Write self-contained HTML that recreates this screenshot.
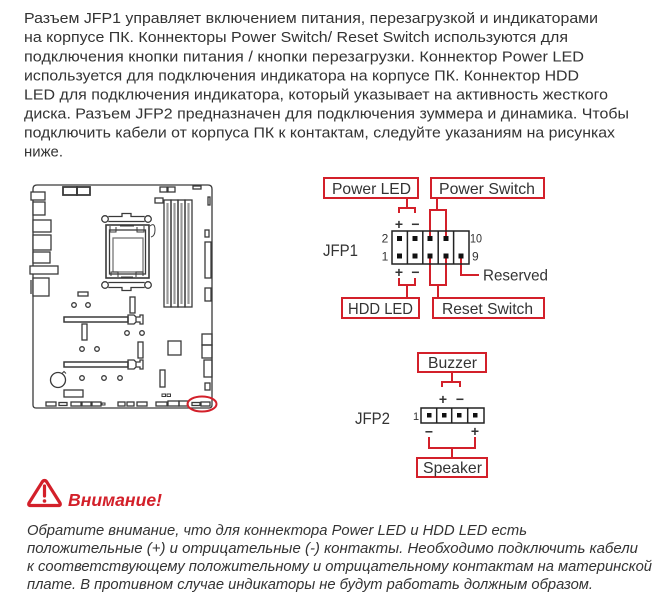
<!DOCTYPE html>
<html><head><meta charset="utf-8"><style>
html,body{margin:0;padding:0;background:#fff;}
svg{display:block;}
</style></head><body>
<svg width="661" height="599" viewBox="0 0 661 599" xmlns="http://www.w3.org/2000/svg" font-family="'Liberation Sans', 'Noto Sans CJK SC', sans-serif">
<rect width="661" height="599" fill="#fff"/>
<!-- Paragraph -->
<g fill="#333" font-size="14.5">
<text x="24" y="23" textLength="574" lengthAdjust="spacingAndGlyphs">Разъем JFP1 управляет включением питания, перезагрузкой и индикаторами</text>
<text x="24" y="42" textLength="544" lengthAdjust="spacingAndGlyphs">на корпусе ПК. Коннекторы Power Switch/ Reset Switch используются для</text>
<text x="24" y="61.5" textLength="560" lengthAdjust="spacingAndGlyphs">подключения кнопки питания / кнопки перезагрузки. Коннектор Power LED</text>
<text x="24" y="80.5" textLength="555" lengthAdjust="spacingAndGlyphs">используется для подключения индикатора на корпусе ПК. Коннектор HDD</text>
<text x="24" y="99.5" textLength="584" lengthAdjust="spacingAndGlyphs">LED для подключения индикатора, который указывает на активность жесткого</text>
<text x="24" y="118.5" textLength="605" lengthAdjust="spacingAndGlyphs">диска. Разъем JFP2 предназначен для подключения зуммера и динамика. Чтобы</text>
<text x="24" y="137.5" textLength="591" lengthAdjust="spacingAndGlyphs">подключить кабели от корпуса ПК к контактам, следуйте указаниям на рисунках</text>
<text x="24" y="156.5" textLength="39" lengthAdjust="spacingAndGlyphs">ниже.</text>
</g>

<!-- Motherboard -->
<g fill="none" stroke="#3a3a3a" stroke-width="1.3">
<path d="M37 185 H208 Q212 185 212 189 V405 Q212 408 209 408 H36 Q33 408 33 405 V189 Q33 185 37 185 Z" fill="#fff"/>
<!-- left IO -->
<rect x="31" y="192" width="14" height="8" fill="#fff"/>
<rect x="33" y="202" width="12" height="13" fill="#fff"/>
<rect x="33" y="220" width="18" height="12" fill="#fff"/>
<rect x="33" y="235" width="18" height="15" fill="#fff"/>
<rect x="33" y="252" width="17" height="11" fill="#fff"/>
<rect x="30" y="266" width="28" height="8" fill="#fff"/>
<rect x="33" y="278" width="16" height="18" fill="#fff"/>
<path d="M31 280 V294"/>
<!-- top -->
<rect x="63" y="187" width="14" height="8" stroke-width="1.8"/>
<rect x="77" y="187" width="13" height="8" stroke-width="1.8"/>
<rect x="160" y="187" width="7" height="5"/>
<rect x="168" y="187" width="7" height="5"/>
<rect x="193" y="186" width="8" height="3"/>
<rect x="155" y="198" width="8" height="5"/>
<rect x="208" y="197" width="2" height="8"/>
<!-- CPU socket -->
<circle cx="105" cy="219" r="3.3"/>
<circle cx="148" cy="219" r="3.3"/>
<path d="M108.3 216.5 H122 V213.5 H131 V216.5 H144.7 M108.3 221.5 H144.7"/>
<rect x="106" y="225" width="43" height="53" stroke-width="1.6"/>
<rect x="109.5" y="230" width="36" height="44"/>
<rect x="113" y="238" width="30" height="34" stroke="#777"/>
<path d="M110 226 V232 H116 V227 M137 227 V232 H144 V226 M120 226 H134" stroke-width="1"/>
<path d="M150 226 Q155 222 155 230 Q155 236 151 237" stroke-width="1"/>
<path d="M111 276 V272 H118 V277 M136 277 V272 H143 V276 M121 277 H133" stroke-width="1"/>
<circle cx="105" cy="285" r="3.3"/>
<circle cx="148" cy="285" r="3.3"/>
<path d="M108.3 282.5 H144.7 M108.3 287.5 H122 V290.5 H131 V287.5 H144.7"/>
<!-- DIMM -->
<rect x="164" y="200" width="7" height="107"/>
<rect x="171" y="200" width="7" height="107"/>
<rect x="178" y="200" width="7" height="107"/>
<rect x="185" y="200" width="7" height="107"/>
<path d="M167.5 203 V304 M174.5 203 V304 M181.5 203 V304 M188.5 203 V304" stroke="#999" stroke-width="2.2"/>
<!-- right side -->
<rect x="205" y="230" width="4" height="7"/>
<rect x="205" y="242" width="6" height="36"/>
<rect x="205" y="288" width="6" height="13"/>
<!-- lower -->
<rect x="78" y="292" width="10" height="4"/>
<rect x="130" y="297" width="5" height="16"/>
<circle cx="74" cy="305" r="2.3"/>
<circle cx="88" cy="305" r="2.3"/>
<rect x="64" y="317" width="64" height="5" stroke-width="1.5"/>
<path d="M128 315 H134 L136 317 H140 V315 H143 V324 H140 V322 H136 L134 324 H128 Z M136 317 V322"/>
<rect x="82" y="324" width="5" height="16"/>
<circle cx="127" cy="333" r="2.3"/>
<circle cx="142" cy="333" r="2.3"/>
<circle cx="82" cy="349" r="2.3"/>
<circle cx="97" cy="349" r="2.3"/>
<rect x="138" y="342" width="5" height="16"/>
<rect x="168" y="341" width="13" height="14"/>
<rect x="202" y="334" width="10" height="11"/>
<rect x="202" y="345" width="10" height="13"/>
<rect x="204" y="360" width="8" height="17"/>
<rect x="205" y="383" width="5" height="7"/>
<rect x="64" y="362" width="64" height="5" stroke-width="1.5"/>
<path d="M128 360 H134 L136 362 H140 V360 H143 V369 H140 V367 H136 L134 369 H128 Z M136 362 V367"/>
<circle cx="58" cy="380" r="7.5"/>
<path d="M62 373.5 L64 371.5 L66 373.5" stroke-width="1"/>
<circle cx="82" cy="378" r="2.3"/>
<circle cx="104" cy="378" r="2.3"/>
<circle cx="120" cy="378" r="2.3"/>
<rect x="160" y="370" width="5" height="17"/>
<rect x="64" y="390" width="19" height="7"/>
<rect x="162" y="394" width="3.5" height="2.5" stroke-width="1"/>
<rect x="167" y="394" width="3.5" height="2.5" stroke-width="1"/>
<!-- bottom row -->
<rect x="46" y="402" width="10" height="4"/>
<rect x="59" y="402.5" width="8" height="3"/>
<rect x="71" y="402" width="10" height="4"/>
<rect x="82" y="402" width="9" height="4"/>
<rect x="92" y="402" width="9" height="4"/>
<rect x="102" y="403" width="3" height="2" stroke-width="1"/>
<rect x="118" y="402" width="7" height="4"/>
<rect x="127" y="402" width="7" height="4"/>
<rect x="137" y="402" width="10" height="4"/>
<rect x="156" y="402" width="11" height="4"/>
<rect x="168" y="401" width="11" height="5"/>
<rect x="179" y="401" width="9" height="5"/>
<rect x="192" y="402.5" width="8" height="3"/>
<rect x="201" y="402" width="9" height="4"/>
</g>
<ellipse cx="202" cy="404" rx="14.5" ry="7.5" fill="none" stroke="#d3202a" stroke-width="2"/>

<!-- JFP1 -->
<g fill="none" stroke="#d3202a" stroke-width="2">
<rect x="324" y="178" width="94" height="20" fill="#fff"/>
<rect x="431" y="178" width="113" height="20" fill="#fff"/>
<rect x="342" y="298" width="77" height="20" fill="#fff"/>
<rect x="433" y="298" width="111" height="20" fill="#fff"/>
<!-- power led bracket -->
<path d="M407 198 V208 M399 213 V208 H415 V213"/>
<!-- power switch -->
<path d="M437 198 V210 M430 238 V210 H446 V238"/>
<!-- reset switch -->
<path d="M430 256 V285 H446 V256 M438 285 V298"/>
<!-- hdd led -->
<path d="M399 278 V285 H415 V278 M407 285 V298"/>
<!-- reserved -->
<path d="M461 256 V275 H479"/>
</g>
<g fill="none" stroke="#222" stroke-width="1.5">
<rect x="392" y="231" width="77" height="33"/>
<path d="M407.4 231 V264 M422.8 231 V264 M438.2 231 V264 M453.6 231 V264"/>
</g>
<g fill="#111">
<rect x="397" y="236" width="5" height="5"/>
<rect x="412.5" y="236" width="5" height="5"/>
<rect x="427.5" y="236" width="5" height="5"/>
<rect x="443.5" y="236" width="5" height="5"/>
<rect x="397" y="253.5" width="5" height="5"/>
<rect x="412.5" y="253.5" width="5" height="5"/>
<rect x="427.5" y="253.5" width="5" height="5"/>
<rect x="443.5" y="253.5" width="5" height="5"/>
<rect x="458.5" y="253.5" width="5" height="5"/>
</g>
<g fill="#333">
<text x="332" y="194" font-size="16" textLength="79" lengthAdjust="spacingAndGlyphs">Power LED</text>
<text x="439" y="194" font-size="16" textLength="96" lengthAdjust="spacingAndGlyphs">Power Switch</text>
<text x="348" y="314" font-size="16" textLength="65" lengthAdjust="spacingAndGlyphs">HDD LED</text>
<text x="442" y="314" font-size="16" textLength="91" lengthAdjust="spacingAndGlyphs">Reset Switch</text>
<text x="483" y="280.5" font-size="16" textLength="65" lengthAdjust="spacingAndGlyphs">Reserved</text>
<text x="323" y="256" font-size="16.5" textLength="35" lengthAdjust="spacingAndGlyphs">JFP1</text>
<text x="385" y="242.5" font-size="12" text-anchor="middle">2</text>
<text x="385" y="260.5" font-size="12" text-anchor="middle">1</text>
<text x="470" y="242.5" font-size="12" textLength="12" lengthAdjust="spacingAndGlyphs">10</text>
<text x="472" y="260.5" font-size="12">9</text>
<text x="399" y="229" font-size="14" font-weight="bold" text-anchor="middle">+</text>
<text x="415.5" y="229" font-size="14" font-weight="bold" text-anchor="middle">−</text>
<text x="399" y="277" font-size="14" font-weight="bold" text-anchor="middle">+</text>
<text x="415.5" y="277" font-size="14" font-weight="bold" text-anchor="middle">−</text>
</g>

<!-- JFP2 -->
<g fill="none" stroke="#d3202a" stroke-width="2">
<rect x="418" y="353" width="68" height="19" fill="#fff"/>
<rect x="417" y="458" width="70" height="19" fill="#fff"/>
<path d="M452 372 V382 M442 387 V382 H460 V387"/>
<path d="M429 437 V448 H475 V437 M452 448 V458"/>
</g>
<g fill="none" stroke="#222" stroke-width="1.5">
<rect x="421" y="408" width="63" height="15"/>
<path d="M436.7 408 V423 M451.7 408 V423 M467.7 408 V423"/>
</g>
<g fill="#111">
<rect x="427" y="413" width="4.5" height="4.5"/>
<rect x="442" y="413" width="4.5" height="4.5"/>
<rect x="457" y="413" width="4.5" height="4.5"/>
<rect x="473" y="413" width="4.5" height="4.5"/>
</g>
<g fill="#333">
<text x="428" y="368" font-size="16" textLength="49" lengthAdjust="spacingAndGlyphs">Buzzer</text>
<text x="423" y="473" font-size="16" textLength="59" lengthAdjust="spacingAndGlyphs">Speaker</text>
<text x="355" y="424" font-size="16.5" textLength="35" lengthAdjust="spacingAndGlyphs">JFP2</text>
<text x="416" y="420" font-size="11" text-anchor="middle">1</text>
<text x="443" y="404" font-size="14" font-weight="bold" text-anchor="middle">+</text>
<text x="460" y="404" font-size="14" font-weight="bold" text-anchor="middle">−</text>
<text x="429" y="436.5" font-size="14" font-weight="bold" text-anchor="middle">−</text>
<text x="475" y="436" font-size="14" font-weight="bold" text-anchor="middle">+</text>
</g>

<!-- Warning -->
<path d="M44.5 480.5 Q46 480.5 47 482.3 L60 503 Q61 505.5 58.5 505.5 H30.5 Q28 505.5 29 503 L42 482.3 Q43 480.5 44.5 480.5 Z" fill="none" stroke="#d3202a" stroke-width="3.2" stroke-linejoin="round"/>
<path d="M44.5 486 V496" stroke="#d3202a" stroke-width="3.2" stroke-linecap="round"/>
<circle cx="44.5" cy="501" r="1.8" fill="#d3202a"/>
<text x="68" y="506" font-size="17.5" font-weight="bold" font-style="italic" fill="#d3202a" textLength="94" lengthAdjust="spacingAndGlyphs">Внимание!</text>
<g fill="#333" font-size="14.5" font-style="italic">
<text x="27" y="535" textLength="500" lengthAdjust="spacingAndGlyphs">Обратите внимание, что для коннектора Power LED и HDD LED есть</text>
<text x="27" y="553" textLength="611" lengthAdjust="spacingAndGlyphs">положительные (+) и отрицательные (-) контакты. Необходимо подключить кабели</text>
<text x="27" y="571" textLength="625" lengthAdjust="spacingAndGlyphs">к соответствующему положительному и отрицательному контактам на материнской</text>
<text x="27" y="589" textLength="566" lengthAdjust="spacingAndGlyphs">плате. В противном случае индикаторы не будут работать должным образом.</text>
</g>
</svg>
</body></html>
